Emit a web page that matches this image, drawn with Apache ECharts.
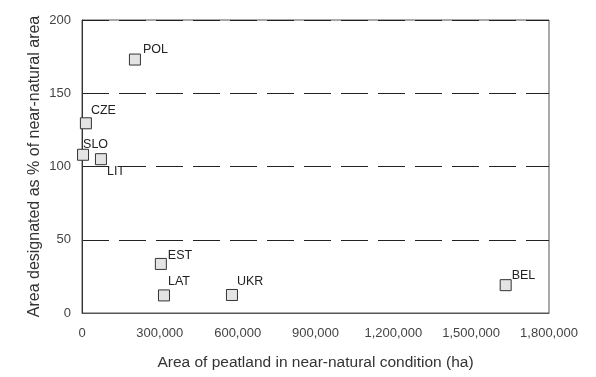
<!DOCTYPE html>
<html>
<head>
<meta charset="utf-8">
<script src="https://cdn.jsdelivr.net/npm/echarts@6/dist/echarts.min.js"></script>
<style>html,body{margin:0;padding:0;background:#fff;}#c{width:596px;height:377px;}</style>
</head>
<body>
<div id="c"></div>
<script>
const countries = ['POL','CZE','SLO','LIT','EST','LAT','UKR','BEL'];
const areaHa = [204000, 15000, 4000, 73000, 304000, 316000, 578000, 1633000];
const pctDesignated = [173, 129.5, 108, 105, 33.5, 12, 12.3, 19];
const xTicks = [0, 300000, 600000, 900000, 1200000, 1500000, 1800000];
const yTicks = [0, 50, 100, 150, 200];

// label offsets (style only), relative to marker centre
const labelOffsets = {
  POL: [8, -10], CZE: [5, -13], SLO: [0, -10], LIT: [6, 12],
  EST: [7, -8], LAT: [4, -14], UKR: [5, -13], BEL: [6, -10]
};

const data = countries.map((c, i) => ({
  name: c,
  value: [areaHa[i], pctDesignated[i]],
  label: { offset: labelOffsets[c] }
}));

const fmt = v => v.toString().replace(/\B(?=(\d{3})+(?!\d))/g, ',');
const font = 'Liberation Sans, Arial, sans-serif';

const chart = echarts.init(document.getElementById('c'), null, {renderer: 'canvas'});
chart.setOption({
  animation: false,
  backgroundColor: '#fff',
  grid: { left: 82, right: 47, top: 20, bottom: 64, show: true, borderColor: '#555', borderWidth: 1 },
  xAxis: {
    type: 'value', min: xTicks[0], max: xTicks[xTicks.length - 1], interval: 300000,
    name: 'Area of peatland in near-natural condition (ha)',
    nameLocation: 'middle', nameGap: 42, nameMoveOverlap: false,
    nameTextStyle: { fontFamily: font, fontSize: 15.5, color: '#333' },
    axisLine: { show: true, lineStyle: { color: '#555' } },
    axisTick: { show: false },
    splitLine: { show: false },
    axisLabel: { fontFamily: font, fontSize: 13, color: '#444', margin: 14, formatter: fmt }
  },
  yAxis: {
    type: 'value', min: yTicks[0], max: yTicks[yTicks.length - 1], interval: 50,
    name: 'Area designated as % of near-natural area',
    nameLocation: 'middle', nameGap: 39, nameMoveOverlap: false,
    nameTextStyle: { fontFamily: font, fontSize: 16, color: '#333' },
    axisLine: { show: true, lineStyle: { color: '#333' } },
    axisTick: { show: false },
    axisLabel: { fontFamily: font, fontSize: 13, color: '#444', margin: 11 },
    splitLine: { show: true, lineStyle: { color: '#222', type: [27, 10], width: 1 } }
  },
  series: [{
    type: 'scatter',
    symbol: 'rect',
    symbolSize: 11,
    itemStyle: { color: '#e4e4e4', borderColor: '#333', borderWidth: 1, opacity: 1 },
    label: {
      show: true, position: 'inside', align: 'left', verticalAlign: 'middle',
      formatter: p => p.name, fontFamily: font, fontSize: 12.5, color: '#222'
    },
    data: data
  }]
});
</script>
</body>
</html>
